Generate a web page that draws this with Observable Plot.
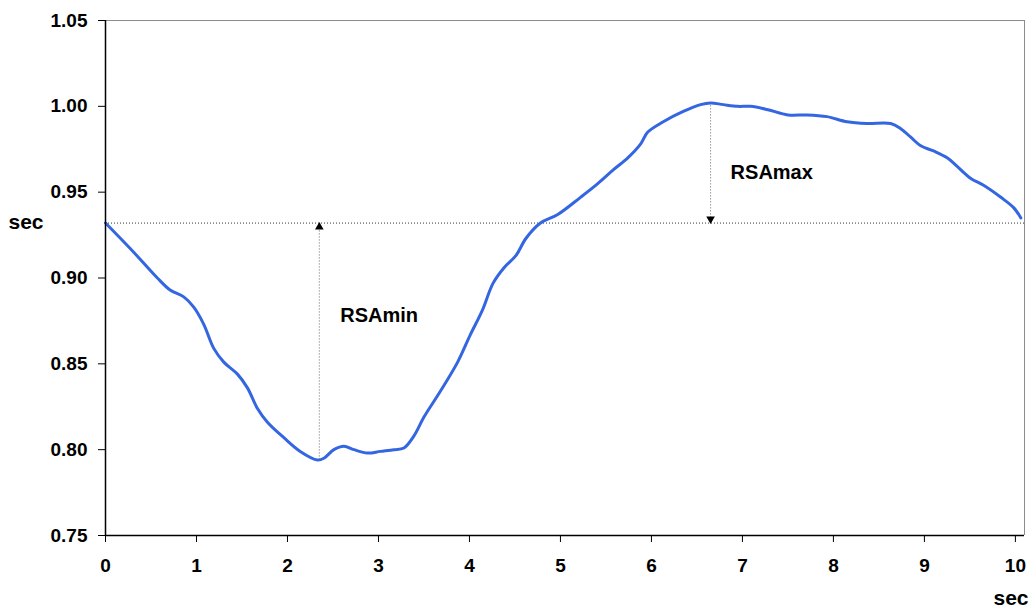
<!DOCTYPE html>
<html>
<head>
<meta charset="utf-8">
<script src="https://cdn.jsdelivr.net/npm/d3@7"></script>
<script src="https://cdn.jsdelivr.net/npm/@observablehq/plot@0.6"></script>
<style>
  html, body { margin: 0; padding: 0; background: #fff; }
  #chart { width: 1031px; height: 610px; overflow: hidden; }
</style>
</head>
<body>
<div id="chart"></div>
<script>
// Time (sec) of each sample along the curve
const times = [0, 0.31, 0.57, 0.71, 0.86, 0.97, 1.08, 1.19, 1.30, 1.45, 1.56, 1.67, 1.78, 1.96, 2.14, 2.33, 2.40, 2.51, 2.62, 2.73, 2.88, 3.02, 3.17, 3.28, 3.39, 3.50, 3.68, 3.87, 4.01, 4.14, 4.26, 4.38, 4.51, 4.62, 4.78, 4.97, 5.22, 5.41, 5.58, 5.74, 5.88, 5.96, 6.13, 6.35, 6.54, 6.65, 6.79, 6.95, 7.09, 7.28, 7.50, 7.71, 7.93, 8.15, 8.37, 8.63, 8.74, 8.85, 8.96, 9.10, 9.25, 9.36, 9.51, 9.65, 9.84, 9.98, 10.06];
// RR interval (sec)
const rr = [0.932, 0.915, 0.900, 0.893, 0.889, 0.883, 0.873, 0.859, 0.851, 0.844, 0.836, 0.824, 0.816, 0.807, 0.799, 0.794, 0.795, 0.800, 0.802, 0.800, 0.798, 0.799, 0.800, 0.801, 0.808, 0.819, 0.834, 0.851, 0.867, 0.881, 0.897, 0.906, 0.913, 0.923, 0.932, 0.937, 0.947, 0.955, 0.963, 0.970, 0.978, 0.985, 0.991, 0.997, 1.001, 1.002, 1.001, 1.000, 1.000, 0.998, 0.995, 0.995, 0.994, 0.991, 0.990, 0.990, 0.987, 0.982, 0.977, 0.974, 0.970, 0.965, 0.958, 0.954, 0.947, 0.941, 0.935];

const baseline = 0.932;
const markers = ["RSAmin", "RSAmax"];
const markerX = [2.35, 6.65];
const markerY = [0.794, 1.002];
const labelX = [2.58, 6.87];
const labelY = [0.878, 0.9615];

const xTicks = [0, 1, 2, 3, 4, 5, 6, 7, 8, 9, 10];
const yTicks = [0.75, 0.80, 0.85, 0.90, 0.95, 1.00, 1.05];
const xDomain = [0, 10.1];
const yDomain = [0.75, 1.05];

const curve = times.map((t, i) => ({t, v: rr[i]}));
const arrows = markers.map((m, i) => ({name: m, x: markerX[i], y: markerY[i], lx: labelX[i], ly: labelY[i], up: markerY[i] < baseline}));

const font = "'Liberation Sans', Arial, Helvetica, sans-serif";

const chart = Plot.plot({
  width: 1031,
  height: 610,
  marginLeft: 105,
  marginRight: 7,
  marginTop: 20,
  marginBottom: 75,
  style: {fontFamily: font, fontWeight: "bold", fontSize: "19px", color: "#000", background: "#fff"},
  x: {domain: xDomain},
  y: {domain: yDomain},
  marks: [
    // frame
    Plot.ruleY([yDomain[1]], {stroke: "#8c8c8c", strokeWidth: 1}),
    Plot.ruleX([xDomain[1]], {stroke: "#8c8c8c", strokeWidth: 1}),
    // baseline dotted line
    Plot.ruleY([baseline], {stroke: "#333", strokeWidth: 1, strokeDasharray: "1,2"}),
    // vertical dotted lines
    Plot.ruleX(arrows, {x: "x", y1: "y", y2: baseline, stroke: "#666", strokeWidth: 1, strokeDasharray: "1,2"}),
    // arrowheads
    Plot.dot(arrows.filter(d => d.up), {x: "x", y: baseline, symbol: "triangle", r: 3.2, fill: "#000", stroke: "none", dy: 4}),
    Plot.dot(arrows.filter(d => !d.up), {x: "x", y: baseline, symbol: "triangle", rotate: 180, r: 3.2, fill: "#000", stroke: "none", dy: -4}),
    // curve
    Plot.line(curve, {x: "t", y: "v", stroke: "#3366e0", strokeWidth: 3, curve: "catmull-rom"}),
    // labels
    Plot.text(arrows, {x: "lx", y: "ly", text: "name", textAnchor: "start", fontSize: 20, fontWeight: "bold", fill: "#000"}),
    // axes
    Plot.axisY({ticks: yTicks, tickFormat: d3.format(".2f"), tickSize: 7, tickPadding: 11, label: null, fontSize: 19, fontWeight: "bold", stroke: "#000"}),
    Plot.axisX({ticks: xTicks, tickFormat: d => String(d), tickSize: 7, tickPadding: 16, label: null, fontSize: 19, fontWeight: "bold", stroke: "#000"}),
    Plot.ruleX([xDomain[0]], {stroke: "#000", strokeWidth: 1.5}),
    Plot.ruleY([yDomain[0]], {stroke: "#000", strokeWidth: 1.5}),
    // axis titles
    Plot.text(["sec"], {frameAnchor: "top-left", dx: -97, dy: 194, textAnchor: "start", lineAnchor: "top", fontSize: 21, fontWeight: "bold"}),
    Plot.text(["sec"], {frameAnchor: "bottom-right", dx: 4, dy: 55, textAnchor: "end", lineAnchor: "top", fontSize: 21, fontWeight: "bold"})
  ]
});
document.getElementById("chart").appendChild(chart);
</script>
</body>
</html>
